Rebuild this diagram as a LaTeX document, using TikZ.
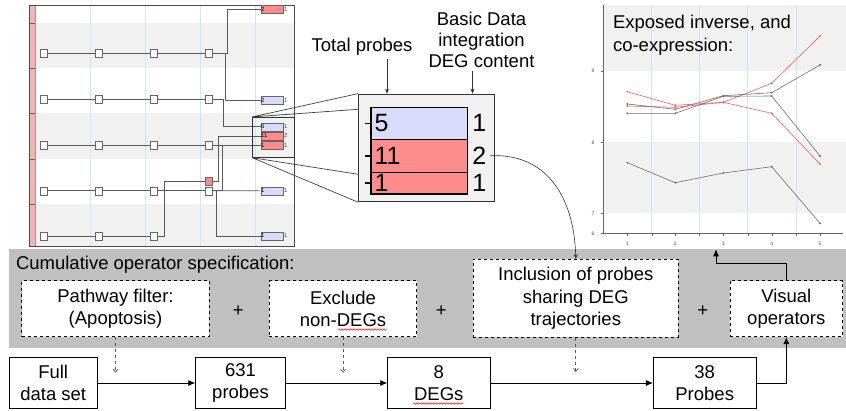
\documentclass[tikz,border=0pt]{standalone}
\usepackage{fontspec}
\setmainfont{Liberation Sans}
\usetikzlibrary{arrows.meta,decorations.pathmorphing}
\definecolor{bandgray}{HTML}{C0C0C0}
\definecolor{rowgray}{HTML}{F1F1F1}
\definecolor{leafred}{HTML}{FF8C8C}
\definecolor{leafblue}{HTML}{DADAFA}
\definecolor{gridblue}{HTML}{D8E2F6}
\definecolor{stripred}{HTML}{F7B2B2}
\definecolor{seriesred}{HTML}{FF5A5A}
\definecolor{seriesgray}{HTML}{6E6E6E}

\begin{document}
\begin{tikzpicture}[x=1pt,y=-1pt,
  txt/.style={font=\fontsize{18.5}{22.5}\selectfont,align=center},
  opbox/.style={txt,draw,dashed,fill=white,inner sep=0pt,line width=0.8pt,minimum height=56pt},
  databox/.style={txt,draw,fill=white,inner sep=0pt,line width=0.8pt,minimum height=51pt},
  arr/.style={-{Latex[length=7pt,width=6pt]},line width=0.8pt},
  thinarr/.style={-{Stealth[length=5pt,width=4pt]},line width=0.6pt,draw=black!80},
  darr/.style={dashed,-{Straight Barb[length=3pt,width=5pt]},line width=0.7pt,draw=black!65},
  rowbox/.style={draw=black!60,fill=white,minimum width=7pt,minimum height=8pt,inner sep=0pt},
  leaf/.style={draw=black!60,minimum height=8pt,text width=21pt,inner sep=0.5pt,align=left,font=\fontsize{6}{6}\selectfont},
  leafcnt/.style={anchor=west,inner sep=1pt,font=\fontsize{6}{6}\selectfont,text=black!70},
  treeline/.style={draw=black!65,line width=0.6pt},
  bar/.style={draw,line width=1.5pt,minimum width=96.3pt,inner sep=0pt},
  barnum/.style={font=\fontsize{25}{25}\selectfont,inner sep=4pt},
  axislabel/.style={font=\fontsize{5}{5}\selectfont,text=black!70,inner sep=0pt},
  trend/.style={line width=0.6pt,mark=*,mark size=0.6pt},
  spell/.style={draw=red,line width=0.5pt,decorate,decoration={snake,amplitude=0.8pt,segment length=3pt}}
]
\useasboundingbox (0,0) rectangle (846,410);

%左上角的树状图：背景条纹
\fill[rowgray] (35,23) rectangle (294,68);
\fill[rowgray] (35,113) rectangle (294,159);
\fill[rowgray] (35,204) rectangle (294,246);
\foreach \x in {90.7,145,200,255}
  \draw[gridblue,line width=0.6pt] (\x,5) -- (\x,246);
\fill[stripred] (29,5) rectangle (35,246);
\draw[black!40] (35,5) -- (35,246);
\foreach \y in {22.7,68,113,159,204}
  \draw[black!60] (29,\y) -- (35,\y);
\draw[black!70,line width=0.8pt] (29,5) rectangle (294,246);

%每一行的小方框
\foreach \y [count=\i] in {53.3,99.3,145,190.7}
  \foreach \x [count=\j] in {43.7,98.7,153.7,208.7}
    \node[rowbox] (r\i-\j) at (\x,\y) {};
\foreach \x [count=\j] in {43.7,98.7,153.7}
  \node[rowbox] (r5-\j) at (\x,236) {};
\node[rowbox,fill=leafred] (rb) at (208.7,181.5) {};
\foreach \i in {1,...,4}
  \draw[treeline] (r\i-1) -- (r\i-2) -- (r\i-3) -- (r\i-4);
\draw[treeline] (r5-1) -- (r5-2) -- (r5-3);

%右侧的叶子
\foreach \n/\y/\c/\a/\b in {1/9.5/leafred/2/1,2/100/leafblue/2/1,3/126.7/leafblue/5/1,
    4/135.8/leafred/11/2,5/145/leafred/1/1,6/190.8/leafblue/1/1,7/235.8/leafblue/1/1}
{
  \node[leaf,fill=\c] (l\n) at (271.7,\y) {\a};
  \node[leafcnt] (lc\n) at (l\n.east) {\b};
}

%连线
\draw[treeline] (r1-4.east) -- ++(14.5,0) |- (l1.west);
\draw[treeline] (r1-4.east) -- ++(13,0) |- (l2.west);
\draw[treeline] (r2-4.east) -- ++(11,0) |- (l3.west);
\draw[treeline] (r3-4.east) -- (l5.west);
\draw[treeline] (rb.east) -- ++(6,0) |- (l4.west);
\draw[treeline] (r4-4.east) -- ++(9.5,0) |- (l5.west);
\draw[treeline] (r4-4.east) -- (l6.west);
\draw[treeline] (r4-4.east) -- ++(4,0) |- (l7.west);
\draw[treeline] (r5-3.east) -- ++(7,0) |- (rb.west);

%放大框
\node[draw=black!80,line width=0.8pt,minimum width=41.3pt,minimum height=40pt,inner sep=0pt] (zsrc) at (273.3,137.3) {};
\node[draw=black!80,fill=rowgray,line width=0.8pt,minimum width=135.7pt,minimum height=107.7pt,inner sep=0pt] (zbox) at (426.2,147.9) {};
\coordinate (zl1) at (358.3,109.3);
\coordinate (zl2) at (358.3,174.3);
\draw[black!75,line width=0.7pt] (zsrc.north west) -- (zbox.north west)
  (zsrc.north west) -- (zl1) (zsrc.south west) -- (zl2) (zsrc.south west) -- (zbox.south west);

%放大后的三个条
\node[bar,fill=leafblue,minimum height=32pt] (b1) at (419.2,123.3) {};
\node[bar,fill=leafred,minimum height=33pt] (b2) at (419.2,155.8) {};
\node[bar,fill=leafred,minimum height=21.7pt] (b3) at (419.2,183.2) {};
\foreach \k/\a/\b in {1/5/1,2/11/2,3/1/1}
{
  \draw[line width=1.5pt] (b\k.west) -- ++(-5,0);
  \node[barnum,anchor=west] (n\k) at (b\k.west) {\a};
  \node[barnum,anchor=west] (c\k) at (b\k.east) {\b};
}

%上方的说明文字
\node[txt] (tp) at (362,47) {Total probes};
\node[txt,font=\fontsize{18.5}{21}\selectfont] (bd) at (481.5,40) {Basic Data\\integration\\DEG content};
\draw[thinarr] ([xshift=25pt]tp.south) -- ([xshift=25pt]tp.south |- zbox.north);
\draw[thinarr] ([xshift=-9pt]bd.south) -- ([xshift=-9pt]bd.south |- zbox.north);

%右上角的折线图
\fill[rowgray] (603.3,5) rectangle (846,70.7);
\fill[rowgray] (603.3,142.3) rectangle (846,213.3);
\foreach \x in {651.7,699.3,747.7,796}
  \draw[gridblue,line width=0.6pt] (\x,5) -- (\x,233.3);
\draw[black!60,line width=0.6pt] (603.3,5) -- (603.3,233.3) -- (843,233.3);
\foreach \x/\v in {627.3/1,675.3/2,723.3/3,771.7/4,820/5}
{
  \draw[black!60] (\x,233.3) -- (\x,236);
  \node[axislabel] (xl\v) at (\x,243.5) {\v};
}
\foreach \x in {651.7,699.3,747.7,796}
  \draw[black!60] (\x,233.3) -- (\x,236);
\foreach \y/\v in {70.7/9,142.3/8,213.3/7,233.3/6}
{
  \draw[black!60] (600.5,\y) -- (603.3,\y);
  \node[axislabel] (yl\v) at (593,\y) {\v};
}
\draw[trend,seriesred] plot coordinates {(627.3,91.7) (675.3,105.3) (723.3,102.3) (771.7,113.3) (820,164)};
\draw[trend,seriesred] plot coordinates {(627.3,106) (675.3,107.3) (723.3,102.3) (771.7,83.3) (820,36)};
\draw[trend,seriesgray] plot coordinates {(627.3,104) (675.3,109.3) (723.3,95.7) (771.7,92.7) (820,65)};
\draw[trend,seriesgray] plot coordinates {(627.3,113.3) (675.3,113.3) (723.3,96.3) (771.7,96) (820,156)};
\draw[trend,seriesgray] plot coordinates {(627.3,162.7) (675.3,182.7) (723.3,173) (771.7,166.7) (820,223.3)};
\node[txt,font=\fontsize{18.5}{22.7}\selectfont,align=left,anchor=west] (ctitle) at (609.5,35.3) {Exposed inverse, and\\co-expression:};

%下方灰色条：算子
\fill[bandgray] (9,249.3) rectangle (846,348.3);
\node[txt,anchor=west] (cum) at (12.5,264.3) {Cumulative operator specification:};
\node[opbox,minimum width=187.6pt] (path) at (115.5,308.7) {Pathway filter:\\(Apoptosis)};
\node[opbox,minimum width=147.4pt] (excl) at (343,308.7) {Exclude\\non-DEGs};
\node[opbox,minimum width=205pt,minimum height=78pt] (incl) at (575.8,298.3) {Inclusion of probes\\sharing DEG\\trajectories};
\node[opbox,minimum width=112.7pt] (visop) at (786.3,308.7) {Visual\\operators};
\node[txt] (plus1) at (238.3,311.5) {+};
\node[txt] (plus2) at (441.3,311.5) {+};
\node[txt] (plus3) at (702.7,311.5) {+};
\draw[spell] (338,329.5) -- (386.7,329.5);

%最下面一行：数据
\node[databox,minimum width=88.3pt] (full) at (53.2,383) {Full\\data set};
\node[databox,minimum width=89.6pt] (p631) at (240.5,383) {631\\probes};
\node[databox,minimum width=102.3pt] (deg8) at (438.8,383) {8\\DEGs};
\node[databox,minimum width=102.7pt] (p38) at (704.7,383) {38\\Probes};
\draw[spell] (413,403.5) -- (463,403.5);
\draw[arr] (full) -- (p631);
\draw[arr] (p631) -- (deg8);
\draw[arr] (deg8) -- (p38);
\draw[arr] (p38.east) -| (visop.south);

%虚线箭头
\coordinate (d1) at (115.5,372.7);
\coordinate (d2) at (343,372.7);
\coordinate (d3) at (575.8,372);
\draw[darr] (path.south) -- (d1);
\draw[darr] (excl.south) -- (d2);
\draw[darr] (incl.south) -- (d3);

%到折线图和从放大框出来的箭头
\coordinate (chartin) at (716,249.3);
\draw[arr] (visop.north) -- ++(0,-17.4) -| (chartin);
\draw[thinarr] (c2.east) .. controls (545,153) and (574,195) .. (incl.north);

\end{tikzpicture}
\end{document}
